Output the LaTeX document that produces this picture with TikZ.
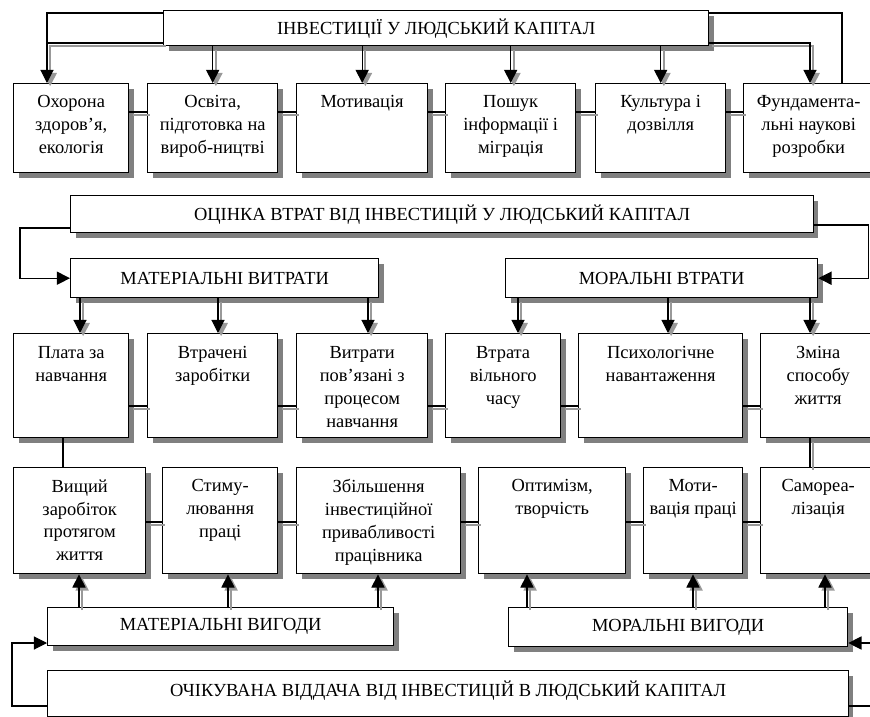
\documentclass[tikz,border=0pt]{standalone}
\usepackage{fontspec}
\setmainfont{Liberation Serif}
\usetikzlibrary{arrows.meta}
\usetikzlibrary{shadows}

\begin{document}
\begin{tikzpicture}[x=0.02cm, y=-0.02cm, font=\fontsize{10.5}{13}\selectfont,
        >={Triangle[length=7.5pt, width=7.5pt]},
        box_style/.style={draw, fill=white, line width=0.8pt, anchor=north west, inner sep=0pt,
            drop shadow={shadow xshift=2.8pt, shadow yshift=-2.8pt, fill=black!50, opacity=1}},
        text_style/.style={anchor=north, align=center, inner sep=0pt},
        loop_style/.style={draw=black, line width=0.6pt},
        line_style/.style={draw=black, line width=0.6pt,
            preaction={draw=black!40, line width=1pt, transform canvas={shift={(1.8pt,-1.8pt)}}}},
        arrow_style/.style={line_style, ->}]

        \useasboundingbox (0,0) rectangle (870,717);

        % investments
        \node [box_style, minimum width=10.9cm, minimum height=0.7cm] (inv) at (163,10) {ІНВЕСТИЦІЇ У ЛЮДСЬКИЙ КАПІТАЛ};

        \node [box_style, minimum width=2.3cm, minimum height=1.78cm] (zdorov) at (13,83) {};
        \node [text_style] (zdorov_t) at ([yshift=-7pt]zdorov.north) {Охорона\\здоров’я,\\екологія};

        \node [box_style, minimum width=2.6cm, minimum height=1.78cm] (osvita) at (147,83) {};
        \node [text_style] (osvita_t) at ([yshift=-7pt]osvita.north) {Освіта,\\підготовка на\\вироб-ництві};

        \node [box_style, minimum width=2.62cm, minimum height=1.78cm] (motyv) at (296,83) {};
        \node [text_style] (motyv_t) at ([yshift=-7pt]motyv.north) {Мотивація};

        \node [box_style, minimum width=2.6cm, minimum height=1.78cm] (poshuk) at (445,83) {};
        \node [text_style] (poshuk_t) at ([yshift=-7pt]poshuk.north) {Пошук\\інформації і\\міграція};

        \node [box_style, minimum width=2.6cm, minimum height=1.78cm] (kultura) at (595,83) {};
        \node [text_style] (kultura_t) at ([yshift=-7pt]kultura.north) {Культура і\\дозвілля};

        \node [box_style, minimum width=2.6cm, minimum height=1.78cm] (nauka) at (743,83) {};
        \node [text_style] (nauka_t) at ([yshift=-7pt]nauka.north) {Фундамента-\\льні наукові\\розробки};

        \coordinate (lc) at (47,43);

        \draw [loop_style] (inv.west |- 0,13) -| (lc);
        \draw [arrow_style] (inv.west |- 0,43) -| (zdorov.north -| 47,0);
        \draw [loop_style] (inv.east |- 0,13) -| (nauka.north -| 842,0);
        \draw [arrow_style] (inv.east |- 0,43) -| (nauka.north -| 810,0);

        \draw [arrow_style] (inv.south -| osvita.north) -- (osvita.north);
        \draw [arrow_style] (inv.south -| motyv.north) -- (motyv.north);
        \draw [arrow_style] (inv.south -| poshuk.north) -- (poshuk.north);
        \draw [arrow_style] (inv.south -| kultura.north) -- (kultura.north);

        \draw [line_style] (zdorov.east |- 0,112) -- (osvita.west |- 0,112);
        \draw [line_style] (osvita.east |- 0,112) -- (motyv.west |- 0,112);
        \draw [line_style] (motyv.east |- 0,112) -- (poshuk.west |- 0,112);
        \draw [line_style] (poshuk.east |- 0,112) -- (kultura.west |- 0,112);
        \draw [line_style] (kultura.east |- 0,112) -- (nauka.west |- 0,112);

        % losses
        \node [box_style, minimum width=14.86cm, minimum height=0.74cm] (otsinka) at (70,195) {ОЦІНКА ВТРАТ ВІД ІНВЕСТИЦІЙ У ЛЮДСЬКИЙ КАПІТАЛ};

        \node [box_style, minimum width=6.16cm, minimum height=0.78cm] (matv) at (70,258) {МАТЕРІАЛЬНІ ВИТРАТИ};

        \node [box_style, minimum width=6.24cm, minimum height=0.78cm] (morv) at (505,258) {МОРАЛЬНІ ВТРАТИ};

        \draw [loop_style, ->] (otsinka.west |- 0,228) -- ++(-50,0) |- (matv.west);
        \draw [loop_style, ->] (otsinka.east |- 0,225) -- ++(54,0) |- (morv.east);

        \node [box_style, minimum width=2.3cm, minimum height=2.08cm] (plata) at (13,333) {};
        \node [text_style] (plata_t) at ([yshift=-7.5pt]plata.north) {Плата за\\навчання};

        \node [box_style, minimum width=2.6cm, minimum height=2.08cm] (zarob) at (147,333) {};
        \node [text_style] (zarob_t) at ([yshift=-7.5pt]zarob.north) {Втрачені\\заробітки};

        \node [box_style, minimum width=2.62cm, minimum height=2.08cm] (vytraty) at (296,333) {};
        \node [text_style] (vytraty_t) at ([yshift=-7.5pt]vytraty.north) {Витрати\\пов’язані з\\процесом\\навчання};

        \node [box_style, minimum width=2.3cm, minimum height=2.08cm] (chas) at (445,333) {};
        \node [text_style] (chas_t) at ([yshift=-7.5pt]chas.north) {Втрата\\вільного\\часу};

        \node [box_style, minimum width=3.28cm, minimum height=2.08cm] (psykh) at (578,333) {};
        \node [text_style] (psykh_t) at ([yshift=-7.5pt]psykh.north) {Психологічне\\навантаження};

        \node [box_style, minimum width=2.3cm, minimum height=2.08cm] (zhyttia) at (760,333) {};
        \node [text_style] (zhyttia_t) at ([yshift=-7.5pt]zhyttia.north) {Зміна\\способу\\життя};

        \draw [arrow_style] (matv.south -| 80,0) -- (plata.north -| 80,0);
        \draw [arrow_style] (matv.south -| 218,0) -- (zarob.north -| 218,0);
        \draw [arrow_style] (matv.south -| 368,0) -- (vytraty.north -| 368,0);
        \draw [arrow_style] (morv.south -| 518,0) -- (chas.north -| 518,0);
        \draw [arrow_style] (morv.south -| 668,0) -- (psykh.north -| 668,0);
        \draw [arrow_style] (morv.south -| 810,0) -- (zhyttia.north -| 810,0);

        \draw [line_style] (plata.east |- 0,406) -- (zarob.west |- 0,406);
        \draw [line_style] (zarob.east |- 0,406) -- (vytraty.west |- 0,406);
        \draw [line_style] (vytraty.east |- 0,406) -- (chas.west |- 0,406);
        \draw [line_style] (chas.east |- 0,406) -- (psykh.west |- 0,406);
        \draw [line_style] (psykh.east |- 0,406) -- (zhyttia.west |- 0,406);

        % gains
        \node [box_style, minimum width=2.64cm, minimum height=2.12cm] (vyshchyi) at (13,467) {};
        \node [text_style] (vyshchyi_t) at ([yshift=-7pt]vyshchyi.north) {Вищий\\заробіток\\протягом\\життя};

        \node [box_style, minimum width=2.3cm, minimum height=2.12cm] (stymul) at (162,467) {};
        \node [text_style] (stymul_t) at ([yshift=-7pt]stymul.north) {Стиму-\\лювання\\праці};

        \node [box_style, minimum width=3.28cm, minimum height=2.12cm] (invest) at (296,467) {};
        \node [text_style] (invest_t) at ([yshift=-7pt]invest.north) {Збільшення\\інвестиційної\\привабливості\\працівника};

        \node [box_style, minimum width=2.94cm, minimum height=2.12cm] (optym) at (478,467) {};
        \node [text_style] (optym_t) at ([yshift=-7pt]optym.north) {Оптимізм,\\творчість};

        \node [box_style, minimum width=1.98cm, minimum height=2.12cm] (motpratsi) at (643,467) {};
        \node [text_style] (motpratsi_t) at ([yshift=-7pt]motpratsi.north) {Моти-\\вація праці};

        \node [box_style, minimum width=2.3cm, minimum height=2.12cm] (samoreal) at (760,467) {};
        \node [text_style] (samoreal_t) at ([yshift=-7pt]samoreal.north) {Самореа-\\лізація};

        \draw [loop_style] (plata.south -| 63,0) -- (vyshchyi.north -| 63,0);
        \draw [line_style] (zhyttia.south -| 810,0) -- (samoreal.north -| 810,0);

        \draw [line_style] (vyshchyi.east |- 0,522) -- (stymul.west |- 0,522);
        \draw [line_style] (stymul.east |- 0,522) -- (invest.west |- 0,522);
        \draw [line_style] (invest.east |- 0,522) -- (optym.west |- 0,522);
        \draw [line_style] (optym.east |- 0,522) -- (motpratsi.west |- 0,522);
        \draw [line_style] (motpratsi.east |- 0,522) -- (samoreal.west |- 0,522);

        \node [box_style, minimum width=6.92cm, minimum height=0.76cm] (matg) at (47,607) {МАТЕРІАЛЬНІ ВИГОДИ};

        \node [box_style, minimum width=6.78cm, minimum height=0.78cm] (morg) at (508,607) {МОРАЛЬНІ ВИГОДИ};

        \draw [arrow_style] (matg.north -| 79,0) -- (vyshchyi.south -| 79,0);
        \draw [arrow_style] (matg.north -| 228,0) -- (stymul.south -| 228,0);
        \draw [arrow_style] (matg.north -| 378,0) -- (invest.south -| 378,0);
        \draw [arrow_style] (morg.north -| 527,0) -- (optym.south -| 527,0);
        \draw [arrow_style] (morg.north -| 693,0) -- (motpratsi.south -| 693,0);
        \draw [arrow_style] (morg.north -| 825,0) -- (samoreal.south -| 825,0);

        \node [box_style, minimum width=16.02cm, minimum height=0.92cm, text depth=6pt] (viddacha) at (47,670) {ОЧІКУВАНА ВІДДАЧА ВІД ІНВЕСТИЦІЙ В ЛЮДСЬКИЙ КАПІТАЛ};

        \draw [loop_style, ->] (viddacha.west |- 0,706) -- ++(-35,0) |- (matg.west |- 0,643);
        \draw [loop_style, ->] (viddacha.east |- 0,706) -- ++(32,0) |- (morg.east |- 0,643);

\end{tikzpicture}
\end{document}
